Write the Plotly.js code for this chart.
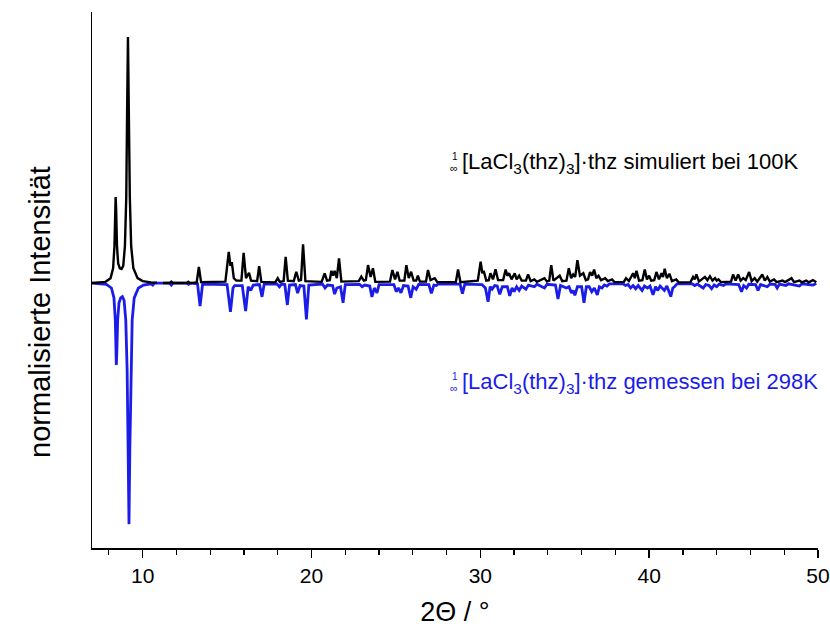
<!DOCTYPE html>
<html>
<head>
<meta charset="utf-8">
<script src="https://cdn.plot.ly/plotly-3.0.1.min.js"></script>
<style>html,body{margin:0;padding:0;background:#fff;}#chart{width:830px;height:641px;}</style>
</head>
<body>
<div id="chart"></div>
<script>
// simulated pattern (100 K), normalised intensity, upward
var simX = [7.0,7.8,8.1,8.25,8.33,8.38,8.40,8.43,8.48,8.55,8.65,8.75,8.85,8.95,9.03,9.08,9.13,9.18,9.24,9.32,9.45,9.7,10.0,10.5,10.85,
 null,11.2,11.6,11.7,11.8,12.6,12.7,12.8,13.2,13.33,13.46,
 14.9,15.1,15.2,15.28,15.4,15.55,15.85,15.98,16.12,16.3,16.42,16.78,16.9,17.03,
 17.85,18.0,18.12,18.35,18.47,18.6,18.95,19.1,19.25,19.38,19.5,19.64,
 20.6,20.78,20.92,21.08,21.18,21.28,21.37,21.5,21.63,21.77,
 22.8,22.95,23.1,23.22,23.35,23.5,23.64,23.78,
 24.65,24.79,24.95,25.09,25.22,25.5,25.62,25.76,25.9,26.05,26.2,26.3,26.42,
 26.78,26.9,27.05,27.3,27.45,28.55,28.68,28.82,
 29.85,30.02,30.12,30.2,30.35,30.5,30.6,30.75,30.9,31.05,31.35,31.5,31.6,31.7,31.85,32.04,32.15,32.3,32.45,32.7,32.83,32.98,33.2,33.35,33.8,33.95,34.08,34.2,34.33,34.7,34.85,
 35.1,35.24,35.38,35.5,35.62,35.75,35.9,36.1,36.25,36.38,36.5,36.62,36.74,36.87,37.0,37.15,37.4,37.55,37.8,37.95,
 38.5,38.63,38.8,39.05,39.15,39.25,39.4,39.6,39.74,39.87,40.0,40.12,40.3,40.43,40.58,40.73,40.82,40.92,41.05,41.2,41.35,41.6,41.75,
 42.45,42.6,42.7,42.8,42.95,43.3,43.45,43.6,43.75,43.9,44.0,44.1,44.25,
 44.85,44.97,45.12,45.27,45.42,45.57,45.72,45.92,46.07,46.25,46.4,46.7,46.85,47.0,47.15,47.4,47.55,47.9,48.05,48.43,48.58,48.9,49.05,49.3,49.45,49.7,49.9];
var simY = [0.0,0.005,0.02,0.06,0.15,0.3,0.35,0.3,0.15,0.08,0.06,0.057,0.07,0.15,0.35,0.7,1.0,0.7,0.35,0.15,0.06,0.02,0.008,0.003,0.002,
 null,0.0,0.0,0.006,0.0,0.0,0.005,0.0,0.003,0.066,0.004,
 0.006,0.127,0.07,0.085,0.02,0.01,0.01,0.123,0.02,0.042,0.01,0.008,0.069,0.005,
 0.003,0.02,0.005,0.008,0.107,0.01,0.008,0.046,0.01,0.012,0.158,0.008,
 0.005,0.039,0.01,0.012,0.05,0.03,0.05,0.02,0.1,0.006,
 0.008,0.026,0.01,0.012,0.073,0.025,0.06,0.005,
 0.006,0.053,0.015,0.046,0.01,0.01,0.073,0.02,0.046,0.01,0.01,0.03,0.006,
 0.006,0.053,0.012,0.02,0.004,0.004,0.055,0.004,
 0.01,0.087,0.04,0.05,0.01,0.012,0.04,0.015,0.056,0.012,0.012,0.055,0.03,0.04,0.015,0.04,0.015,0.03,0.01,0.01,0.035,0.008,0.015,0.005,0.02,0.006,0.01,0.073,0.01,0.03,0.008,
 0.01,0.06,0.02,0.035,0.025,0.093,0.03,0.04,0.012,0.015,0.045,0.03,0.055,0.02,0.03,0.012,0.02,0.008,0.015,0.004,
 0.005,0.02,0.008,0.04,0.02,0.05,0.01,0.012,0.055,0.015,0.03,0.01,0.012,0.045,0.015,0.04,0.025,0.058,0.02,0.038,0.008,0.015,0.003,
 0.004,0.025,0.015,0.035,0.006,0.025,0.012,0.028,0.01,0.02,0.01,0.015,0.004,
 0.006,0.035,0.01,0.035,0.01,0.02,0.012,0.045,0.008,0.02,0.006,0.035,0.01,0.025,0.006,0.015,0.004,0.01,0.004,0.02,0.004,0.01,0.003,0.01,0.003,0.012,0.003];

// measured pattern (298 K), drawn mirrored downward
var expX = [7.0,7.85,8.15,8.3,8.38,8.42,8.44,8.47,8.52,8.6,8.7,8.8,8.9,9.0,9.08,9.14,9.19,9.24,9.3,9.38,9.5,9.75,10.05,10.5,10.6,10.7,
 11.6,11.7,11.8,12.6,12.72,12.85,13.25,13.4,13.55,
 15.0,15.2,15.35,15.45,15.9,16.1,16.25,16.4,16.55,16.92,17.07,17.2,
 17.95,18.1,18.22,18.42,18.57,18.7,19.05,19.18,19.32,19.55,19.7,19.84,
 20.65,20.8,20.95,21.25,21.37,21.5,21.72,21.87,22.0,
 22.85,23.0,23.15,23.45,23.58,23.72,23.88,24.0,
 24.88,25.02,25.15,25.3,25.45,25.72,25.88,26.02,26.2,26.35,
 26.95,27.1,27.25,27.4,27.5,28.8,28.94,29.08,
 30.1,30.3,30.46,30.58,30.7,30.85,31.0,31.15,31.3,31.6,31.74,31.88,32.0,32.15,32.3,32.45,32.7,32.85,33.2,33.35,33.8,33.95,
 34.45,34.6,34.75,35.1,35.25,35.4,35.5,35.6,35.75,36.0,36.14,36.28,36.45,36.6,36.75,36.93,37.05,37.2,37.35,37.5,37.65,
 38.45,38.6,38.75,38.9,39.05,39.2,39.35,39.58,39.72,39.9,40.05,40.23,40.38,40.5,40.65,40.9,41.05,41.28,41.4,41.5,41.65,
 42.55,42.7,42.85,43.2,43.35,43.55,43.7,43.85,44.0,44.15,44.4,44.55,
 45.3,45.47,45.6,45.77,45.9,46.3,46.45,46.6,47.0,47.15,47.45,47.58,47.72,48.1,48.25,48.9,49.05,49.7,49.9];
var expY = [0.0,-0.005,-0.02,-0.06,-0.15,-0.28,-0.333,-0.28,-0.15,-0.08,-0.06,-0.055,-0.07,-0.15,-0.35,-0.68,-0.98,-0.68,-0.35,-0.15,-0.06,-0.02,-0.008,-0.003,-0.008,0.0,
 0.0,-0.008,0.0,0.0,-0.005,0.0,-0.003,-0.094,-0.004,
 -0.006,-0.117,-0.02,-0.01,-0.01,-0.114,-0.015,-0.03,-0.008,-0.006,-0.056,-0.004,
 -0.003,-0.015,-0.004,-0.006,-0.089,-0.008,-0.006,-0.041,-0.01,-0.012,-0.148,-0.008,
 -0.004,-0.02,-0.008,-0.01,-0.045,-0.02,-0.015,-0.08,-0.006,
 -0.005,-0.015,-0.008,-0.012,-0.056,-0.02,-0.04,-0.006,
 -0.006,-0.035,-0.02,-0.04,-0.01,-0.012,-0.06,-0.015,-0.025,-0.005,
 -0.006,-0.042,-0.008,-0.01,-0.003,-0.004,-0.043,-0.004,
 -0.006,-0.02,-0.076,-0.015,-0.025,-0.01,-0.012,-0.046,-0.015,-0.015,-0.052,-0.02,-0.035,-0.015,-0.03,-0.012,-0.025,-0.008,-0.015,-0.005,-0.02,-0.005,
 -0.008,-0.065,-0.01,-0.02,-0.015,-0.04,-0.03,-0.05,-0.015,-0.015,-0.08,-0.015,-0.015,-0.035,-0.02,-0.048,-0.015,-0.02,-0.008,-0.012,-0.003,
 -0.003,-0.01,-0.006,-0.02,-0.01,-0.023,-0.01,-0.03,-0.012,-0.02,-0.012,-0.048,-0.015,-0.03,-0.012,-0.03,-0.012,-0.055,-0.02,-0.015,-0.003,
 -0.003,-0.01,-0.004,-0.02,-0.006,-0.01,-0.023,-0.008,-0.015,-0.004,-0.01,-0.003,
 -0.006,-0.035,-0.01,-0.02,-0.005,-0.006,-0.03,-0.006,-0.015,-0.004,-0.005,-0.02,-0.004,-0.01,-0.003,-0.012,-0.003,-0.008,-0.002];

var xTickVals = [10, 20, 30, 40, 50];
var xTickText = ["10", "20", "30", "40", "50"];
var labelSim = "[LaCl<sub>3</sub>(thz)<sub>3</sub>]·thz simuliert bei 100K";
var labelExp = "[LaCl<sub>3</sub>(thz)<sub>3</sub>]·thz gemessen bei 298K";
var xTitle = "2Θ / °";
var yTitle = "normalisierte Intensität";

var BLUE = "#1c1ce8";
var FONT = "Liberation Sans, Arial, sans-serif";

var traces = [
  {x: expX, y: expY, type: "scatter", mode: "lines", connectgaps: false,
   line: {color: BLUE, width: 2.8}, hoverinfo: "skip"},
  {x: simX, y: simY, type: "scatter", mode: "lines", connectgaps: false,
   line: {color: "#000000", width: 2.4}, hoverinfo: "skip"}
];

function label(txt, xv, yv, col) {
  return [
    {x: xv, y: yv, xref: "x", yref: "y", text: txt, showarrow: false,
     xanchor: "left", yanchor: "middle", font: {family: FONT, size: 22, color: col}},
    {x: xv - 0.02, y: yv + 0.026, xref: "x", yref: "y", text: "1", showarrow: false,
     xanchor: "right", yanchor: "middle", font: {family: FONT, size: 10, color: col}},
    {x: xv - 0.02, y: yv - 0.02, xref: "x", yref: "y", text: "∞", showarrow: false,
     xanchor: "right", yanchor: "middle", font: {family: FONT, size: 11, color: col}}
  ];
}

var layout = {
  width: 830, height: 641,
  margin: {l: 92, r: 12, t: 12, b: 93},
  paper_bgcolor: "#ffffff", plot_bgcolor: "#ffffff",
  showlegend: false,
  font: {family: FONT, color: "#000"},
  xaxis: {
    range: [7, 50], showgrid: false, zeroline: false,
    showline: true, linecolor: "#000", linewidth: 1.5,
    ticks: "outside", ticklen: 8, tickwidth: 1.5, tickcolor: "#000",
    tickvals: xTickVals, ticktext: xTickText,
    tickfont: {family: FONT, size: 21, color: "#000"},
    minor: {dtick: 2, tick0: 0, ticks: "outside", ticklen: 5, tickwidth: 1.2, tickcolor: "#000", showgrid: false},
    title: {text: xTitle, font: {family: FONT, size: 27, color: "#000"}, standoff: 16}
  },
  yaxis: {
    range: [-1.077, 1.102], showgrid: false, zeroline: false,
    showline: true, linecolor: "#000", linewidth: 1.5,
    ticks: "", showticklabels: false
  },
  annotations: [].concat(
    label(labelSim, 28.8, 0.488, "#000000"),
    label(labelExp, 28.8, -0.407, BLUE),
    [{xref: "paper", yref: "paper", x: -0.072, y: 0.44, text: yTitle, textangle: -90,
      showarrow: false, xanchor: "center", yanchor: "middle",
      font: {family: FONT, size: 29, color: "#000"}}]
  )
};

Plotly.newPlot("chart", traces, layout, {staticPlot: true, displayModeBar: false});
</script>
</body>
</html>
